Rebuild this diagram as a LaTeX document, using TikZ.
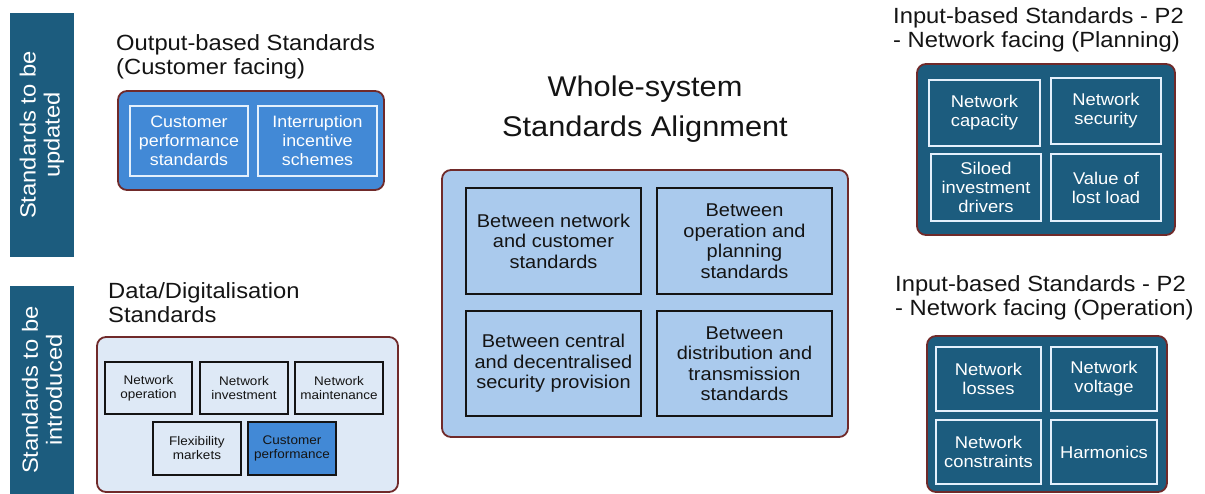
\documentclass[tikz,border=0pt]{standalone}
\usepackage{fontspec}
\setmainfont{Liberation Sans}[FakeStretch=1.08]
\definecolor{deepteal}{RGB}{28,92,126}
\definecolor{midblue}{RGB}{66,137,214}
\definecolor{paleblue}{RGB}{170,202,237}
\definecolor{mistblue}{RGB}{222,233,246}
\definecolor{frame}{RGB}{112,42,42}
\definecolor{cellrule}{RGB}{228,240,252}
\definecolor{ink}{RGB}{20,20,20}
\newcommand{\fs}[2]{\fontsize{#1}{#2}\selectfont}
\begin{document}
\begin{tikzpicture}[x=1pt,y=-1pt,
  sidebar/.style={fill=deepteal, text=white, rotate=90, inner sep=0, align=center, font=\fs{22}{24}},
  heading/.style={inner sep=0, align=left, text=ink, font=\fs{22}{23.5}},
  outerbox/.style={draw=frame, line width=1.8, rounded corners=9, inner sep=0},
  lightcell/.style={draw=cellrule, line width=1.6, text=white, align=center, inner sep=0},
  darkcell/.style={draw=ink, line width=1.6, text=ink, align=center, inner sep=0}]
\useasboundingbox (0,0) rectangle (1205,493);

% side labels
\node[sidebar, minimum width=244, minimum height=64] (upd) at (42,135) {Standards to be\\updated};
\node[sidebar, minimum width=208, minimum height=64] (intro) at (42,390) {Standards to be\\introduced};

% output-based standards
\node[heading, anchor=base west] (outT) at (116,74) {Output-based Standards\\(Customer facing)};
\node[outerbox, fill=midblue, minimum width=266, minimum height=99] (outB) at (251,140.5) {};
\node[lightcell, minimum width=118, minimum height=70, font=\fs{16.5}{19}] (cps) at (189,141) {Customer\\performance\\standards};
\node[lightcell, minimum width=119, minimum height=70, font=\fs{16.5}{19}] (iis) at (317.5,141) {Interruption\\incentive\\schemes};

% data / digitalisation standards
\node[heading, anchor=base west] (datT) at (108,322) {Data/Digitalisation\\Standards};
\node[outerbox, fill=mistblue, minimum width=301, minimum height=155] (datB) at (247.5,414.5) {};
\tikzset{small/.style={darkcell, minimum width=88, minimum height=52, font=\fs{12.5}{14}}}
\node[small, minimum width=87] (nop) at (148.5,388) {Network\\operation};
\node[small] (ninv) at (244,388) {Network\\investment};
\node[small] (nmnt) at (339,388) {Network\\maintenance};
\node[small, fill=mistblue, minimum height=53] (flex) at (197,448.5) {Flexibility\\markets};
\node[small, fill=midblue, minimum height=53] (cperf) at (292,448.5) {Customer\\performance};

% whole-system alignment
\node[inner sep=0, align=center, text=ink, font=\fs{28.5}{40}, anchor=base] (wsT) at (645,136) {Whole-system\\Standards Alignment};
\node[outerbox, fill=paleblue, minimum width=406, minimum height=267] (wsB) at (645,303.5) {};
\tikzset{big/.style={darkcell, minimum width=175, minimum height=106, font=\fs{18.5}{20.5}}}
\node[big] (ncs) at (553.5,241) {Between network\\and customer\\standards};
\node[big] (ops) at (744.5,241) {Between\\operation and\\planning\\standards};
\node[big, minimum height=105] (cds) at (553.5,363.5) {Between central\\and decentralised\\security provision};
\node[big, minimum height=105] (dts) at (744.5,363.5) {Between\\distribution and\\transmission\\standards};

% input-based standards: planning
\node[heading, anchor=base west] (plT) at (893,47) {Input-based Standards - P2\\- Network facing (Planning)};
\node[outerbox, fill=deepteal, minimum width=258, minimum height=171] (plB) at (1046,149.5) {};
\tikzset{mid/.style={lightcell, minimum width=110, minimum height=66, font=\fs{17}{19}}}
\node[mid, minimum width=111] (ncap) at (984.5,113) {Network\\capacity};
\node[mid] (nsec) at (1106,111) {Network\\security};
\node[mid, minimum height=67] (sid) at (986,187.5) {Siloed\\investment\\drivers};
\node[mid, minimum height=67] (voll) at (1106,187.5) {Value of\\lost load};

% input-based standards: operation
\node[heading, anchor=base west] (opT) at (895,315) {Input-based Standards - P2\\- Network facing (Operation)};
\node[outerbox, fill=deepteal, minimum width=240, minimum height=156] (opB) at (1047,414) {};
\tikzset{opcell/.style={lightcell, minimum width=105, minimum height=64, font=\fs{17}{19}}}
\node[opcell] (nloss) at (988.5,379) {Network\\losses};
\node[opcell, minimum width=106] (nvolt) at (1104,379) {Network\\voltage};
\node[opcell] (ncon) at (988.5,452) {Network\\constraints};
\node[opcell, minimum width=106] (harm) at (1104,452) {Harmonics};
\end{tikzpicture}
\end{document}
